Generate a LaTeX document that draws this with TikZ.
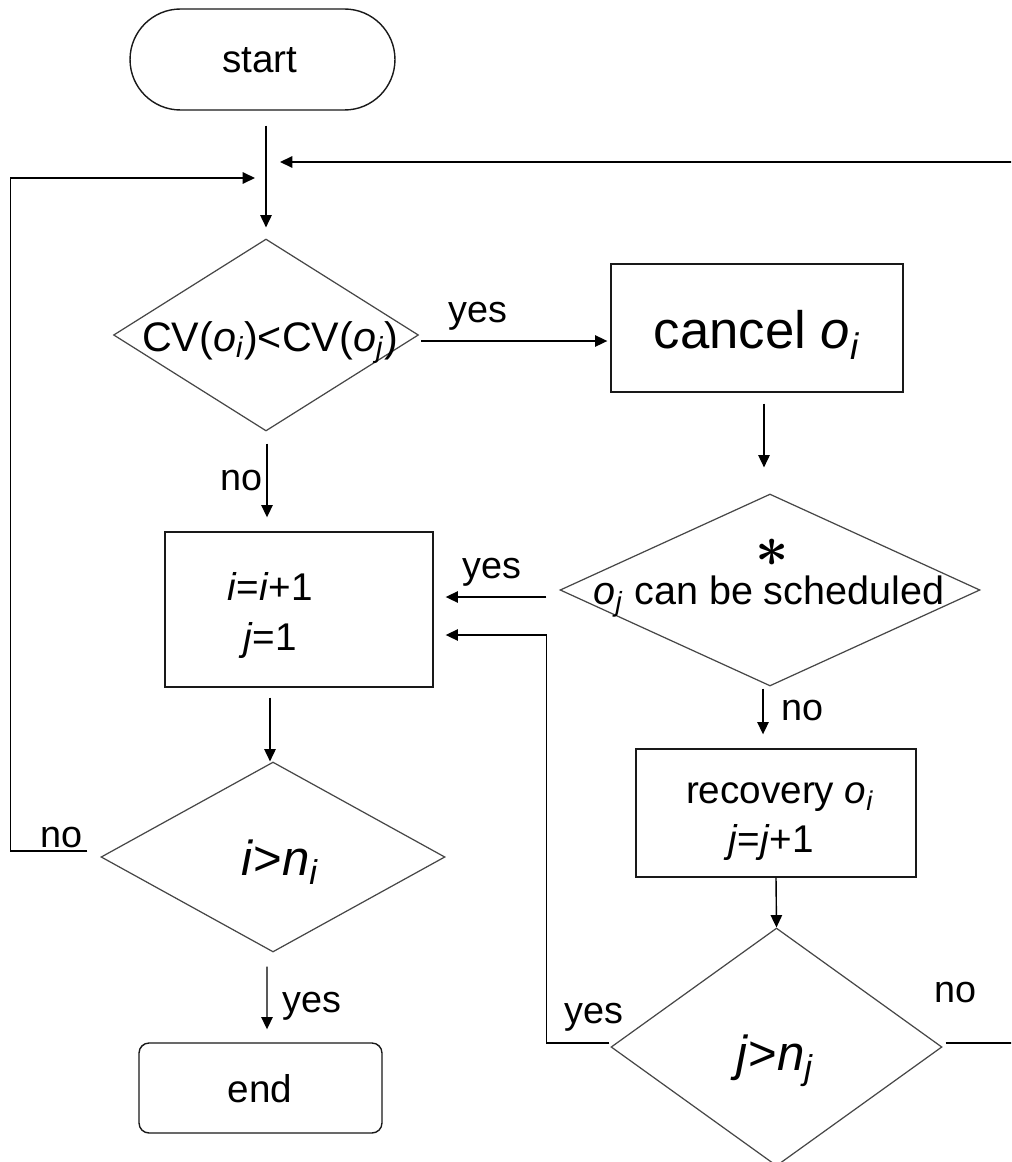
\documentclass[tikz,border=0pt]{standalone}
\usepackage{fontspec}
\setmainfont{Liberation Sans}
\usetikzlibrary{shapes.geometric,shapes.misc,arrows.meta,calc}

\newcommand{\sbi}[1]{\textsubscript{\textit{#1}}}

\begin{document}
\begin{tikzpicture}[x=0.02cm,y=-0.02cm,
  font=\fontsize{22}{26}\selectfont,
  flow/.style={draw=black!90,line width=0.8pt,inner sep=0pt},
  decision/.style={diamond,draw=black!72,line width=0.7pt,inner sep=0pt},
  txt/.style={inner sep=0pt,anchor=base},
  tag/.style={inner sep=0pt,anchor=base,font=\fontsize{21.5}{24}\selectfont},
  big/.style={inner sep=0pt,anchor=base,font=\fontsize{28}{32}\selectfont},
  conn/.style={line width=0.8pt,-{Triangle[length=7pt,width=6.5pt]}}]

\useasboundingbox (0,0) rectangle (1011,1162);
\clip (0,0) rectangle (1011,1162);

% ---- shapes ----
\node[flow,rounded rectangle,minimum width=5.3cm,minimum height=2.02cm] (start) at (262.5,59.5) {};
\node[decision,minimum width=6.1cm,minimum height=3.84cm] (d1) at (266,335) {};
\node[flow,minimum width=5.84cm,minimum height=2.56cm] (cancel) at (757,328) {};
\node[decision,minimum width=8.4cm,minimum height=3.84cm] (d2) at (770,590) {};
\node[flow,minimum width=5.36cm,minimum height=3.1cm] (inc) at (299,609.5) {};
\node[flow,minimum width=5.6cm,minimum height=2.56cm] (rec) at (776,813) {};
\node[decision,minimum width=6.88cm,minimum height=3.8cm] (d3) at (273,857) {};
\node[decision,minimum width=6.62cm,minimum height=4.76cm] (d4) at (776.5,1047) {};
\node[flow,rounded corners=0.2cm,minimum width=4.86cm,minimum height=1.8cm] (end) at (260.5,1088) {};

% ---- texts inside shapes ----
\node[txt] (startT) at (260,73) {start};
\node[txt,font=\fontsize{23.5}{28}\selectfont] (d1T) at (270,351)
  {CV(\textit{o}\sbi{i})<CV(\textit{o}\sbi{j})};
\node[txt,font=\fontsize{30}{34}\selectfont] (cancelT) at (757,348) {cancel \textit{o}\sbi{i}};
\node[inner sep=0pt,font=\normalsize\boldmath,scale=3.3] (ast) at (772,553) {$\ast$};
\node[txt,font=\fontsize{22.5}{26}\selectfont] (d2T) at (769,604) {\textit{o}\sbi{j} can be scheduled};
\node[txt] (incA) at (270,600) {\textit{i}=\textit{i}+1};
\node[txt] (incB) at (270,650) {\textit{j}=1};
\node[txt] (recA) at (780,803) {recovery \textit{o}\sbi{i}};
\node[txt] (recB) at (771,852) {\textit{j}=\textit{j}+1};
\node[big] (d3T) at (280,875) {\textit{i}>\textit{n}\sbi{i}};
\node[big] (d4T) at (775,1070) {\textit{j}>\textit{n}\sbi{j}};
\node[txt] (endT) at (260,1102) {end};

% ---- branch labels ----
\node[tag] (yes1) at (478,322) {yes};
\node[tag] (no1) at (242,490) {no};
\node[tag] (yes2) at (492,578) {yes};
\node[tag] (no2) at (802,720) {no};
\node[tag] (no3) at (955,1002) {no};
\node[tag] (yes3) at (594,1023) {yes};
\node[tag] (no4) at (62,847) {no};
\node[tag] (yes4) at (312,1012) {yes};

% ---- loop-back arrow tips ----
\coordinate (rtip) at (280,162);
\coordinate (ltip) at (255,178);

% ---- connectors ----
\draw[conn,shorten <=0.3cm,shorten >=0.22cm] (start.south -| d1.north) -- (d1.north);
\draw[conn] ($(d1.east)+(2,6)$) -- ($(cancel.west)+(-3,13)$);
\draw[conn] ($(d1.south)+(1,12)$) -- ($(inc.north)+(-32,-14)$);
\draw[conn] ($(cancel.south)+(7,11)$) -- ($(d2.north)+(-6,-26)$);
\draw[conn] ($(d2.west)+(-13,7)$) -- ($(inc.east)+(12,-12.5)$);
\draw[conn] ($(d2.south)+(-7,2)$) -- ($(rec.north)+(-13,-14)$);
\draw[conn] (rec.south) -- (d4.north);
\draw[conn] ($(inc.south)+(-29,10)$) -- ($(d3.north)+(-3,0)$);
\draw[conn] ($(d3.south)+(-6,14)$) -- ($(end.north)+(6.5,-13)$);
\draw[conn] ($(d4.west)+(-1,-4)$) -- ++(-63,0) |- ($(inc.east)+(12,25.5)$);
\draw[conn] ($(d4.east)+(3,-4)$) -- ++(80,0) |- (rtip);
\draw[conn] ($(d3.west)+(-13,-6)$) -- ++(-77,0) |- (ltip);

\end{tikzpicture}
\end{document}
